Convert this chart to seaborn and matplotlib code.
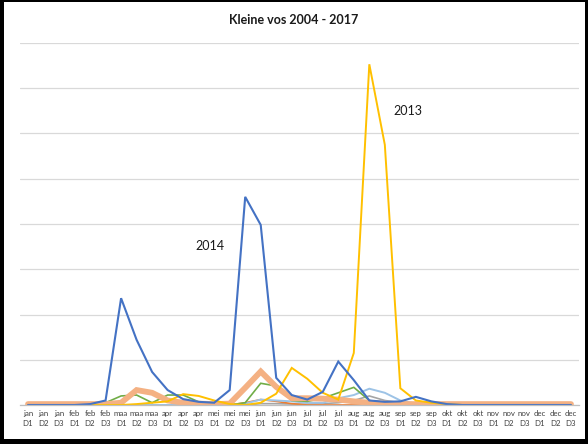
import numpy as np
import pandas as pd
import seaborn as sns
import matplotlib.pyplot as plt
from matplotlib.patches import Rectangle

# decades: jan D1 .. dec D3
months = ["jan", "feb", "maa", "apr", "mei", "jun", "jul", "aug", "sep", "okt", "nov", "dec"]
decades = ["D1", "D2", "D3"]
tick_labels = [f"{m}\n{d}" for m in months for d in decades]

# values (grid step = 1)
y2014 = [0, 0, 0, 0, 0.02, 0.1, 2.36, 1.44, 0.73, 0.33, 0.13, 0.07,
         0.05, 0.33, 4.6, 3.98, 0.6, 0.22, 0.12, 0.29, 0.96, 0.55, 0.1, 0.07,
         0.08, 0.18, 0.08, 0.02, 0, 0, 0, 0, 0, 0, 0, 0]
y2013 = [0, 0, 0, 0, 0, 0, 0, 0.02, 0.05, 0.08, 0.24, 0.2,
         0.1, 0.02, 0, 0.05, 0.25, 0.82, 0.58, 0.27, 0.12, 1.15, 7.53, 5.75,
         0.37, 0.1, 0.05, 0.02, 0, 0, 0, 0, 0, 0, 0, 0]
y_green = [0, 0, 0, 0, 0, 0.05, 0.2, 0.22, 0.05, 0.22, 0.22, 0.07,
           0, 0, 0.05, 0.48, 0.42, 0.1, 0.08, 0.15, 0.27, 0.39, 0.1, 0.03,
           0, 0, 0, 0, 0, 0, 0, 0, 0, 0, 0, 0]
y_salmon = [0.02, 0.02, 0.02, 0.02, 0.02, 0.02, 0.05, 0.33, 0.27, 0.1, 0.05, 0.03,
            0.02, 0.03, 0.38, 0.74, 0.4, 0.15, 0.15, 0.14, 0.12, 0.08, 0.05, 0.03,
            0.02, 0.02, 0.02, 0.02, 0.02, 0.02, 0.02, 0.02, 0.02, 0.02, 0.02, 0.02]
y_lightblue = [0, 0, 0, 0, 0, 0, 0, 0, 0, 0, 0, 0,
               0, 0, 0.03, 0.12, 0.1, 0.08, 0.05, 0.05, 0.15, 0.22, 0.36, 0.27,
               0.1, 0.03, 0, 0, 0, 0, 0, 0, 0, 0, 0, 0]
y_gray = [0, 0, 0, 0, 0, 0, 0, 0, 0, 0, 0, 0,
          0, 0, 0, 0.03, 0.03, 0.02, 0.02, 0.03, 0.05, 0.1, 0.2, 0.1,
          0.05, 0, 0, 0, 0, 0, 0, 0, 0, 0, 0, 0]
y_orange = [0, 0, 0, 0, 0, 0, 0, 0, 0, 0, 0, 0,
            0, 0, 0.05, 0.12, 0.08, 0.03, 0, 0, 0, 0, 0, 0,
            0, 0, 0, 0, 0, 0, 0, 0, 0, 0, 0, 0]

series = [
    (y_gray, "#A5A5A5", 1.2),
    (y_orange, "#ED7D31", 1.2),
    (y_lightblue, "#9DC3E6", 1.4),
    (y_green, "#70AD47", 1.2),
    (y_salmon, "#F4B183", 4.2),
    (y2013, "#FFC000", 1.4),
    (y2014, "#4472C4", 1.5),
]

sns.set_style("white")
plt.rcParams['font.family'] = ['Lato', 'DejaVu Sans']

fig = plt.figure(figsize=(5.88, 4.44), dpi=100)
ax = fig.add_axes([20.25 / 588, 1 - 405 / 444, 558.5 / 588, 362 / 444])

x = np.arange(len(tick_labels))
for vals, col, lw in series:
    df = pd.DataFrame({"x": x, "y": vals})
    sns.lineplot(data=df, x="x", y="y", color=col, linewidth=lw, ax=ax,
                 solid_joinstyle="miter")

ax.set_xlim(-0.5, len(tick_labels) - 0.5)
ax.set_ylim(0, 8)
ax.set_yticks(range(0, 9))
ax.set_yticklabels([])
ax.yaxis.grid(True, color="#D9D9D9", linewidth=0.9)
ax.set_axisbelow(True)
ax.set_xticks(x)
ax.set_xticklabels(tick_labels, fontsize=5.7, color="#404040", linespacing=1.45)
ax.tick_params(axis="x", length=0, pad=3.5)
ax.tick_params(axis="y", length=0)
ax.set_xlabel("")
ax.set_ylabel("")
for s in ["top", "right", "left"]:
    ax.spines[s].set_visible(False)
ax.spines["bottom"].set_color("#BFBFBF")
ax.spines["bottom"].set_linewidth(0.9)

ax.text(11.74, 3.51, "2014", ha="center", va="center", fontsize=9, color="#1a1a1a")
ax.text(24.5, 6.49, "2013", ha="center", va="center", fontsize=9, color="#1a1a1a")

fig.text(0.5, 1 - 20 / 444, "Kleine vos 2004 - 2017", ha="center", va="center",
         fontsize=9, fontweight="bold", color="#1a1a1a")

# black frame round the screenshot
W, H = 588, 444
for rx, ry, rw, rh in [(0, 0, 4, H), (0, 0, W, 5), (0, H - 2, W, 2), (W - 3, 0, 3, H)]:
    fig.add_artist(Rectangle((rx / W, ry / H), rw / W, rh / H, transform=fig.transFigure,
                             facecolor="black", edgecolor="none"))

fig.savefig("out.png", dpi=100)
